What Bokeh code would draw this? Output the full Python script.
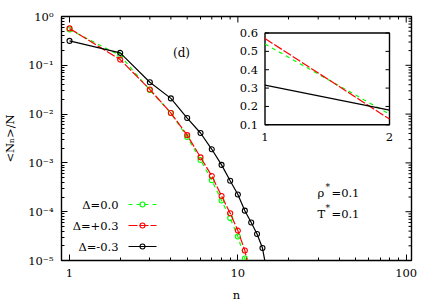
from bokeh.plotting import figure
from bokeh.models import (Range1d, LinearScale, FixedTicker,
                          CustomJSTickFormatter, ColumnDataSource)
from bokeh.core.properties import value
from bokeh.embed import file_html
from bokeh.resources import INLINE

# ---------------- data ----------------
n_green = [1, 2, 3, 4, 5, 6, 7, 8, 9, 10, 11, 12]
v_green = [0.54, 0.158, 0.031, 0.0105, 0.0034, 0.00115, 4.4e-4, 1.7e-4, 7.4e-5, 3.1e-5, 1.1e-5, 3.0e-6]

n_red = [1, 2, 3, 4, 5, 6, 7, 8, 9, 10, 11, 12]
v_red = [0.57, 0.131, 0.032, 0.0105, 0.0037, 0.0013, 5.4e-4, 2.1e-4, 9.3e-5, 4.1e-5, 1.6e-5, 4.0e-6]

n_black = [1, 2, 3, 4, 5, 6, 7, 8, 9, 10, 11, 12, 13, 14, 15]
v_black = [0.316, 0.18, 0.045, 0.021, 0.0083, 0.0041, 0.0019, 9.1e-4, 4.3e-4, 2.25e-4,
           1.05e-4, 6.0e-5, 3.5e-5, 1.8e-5, 5.0e-6]

labels = ["Δ=0.0", "Δ=+0.3", "Δ=-0.3"]
colors = ["#00ff00", "#ff0000", "#000000"]
dashes = ["4 4", "9 2", "solid"]

x_major = [1, 10, 100]
x_minor = [2, 3, 4, 5, 6, 7, 8, 9, 20, 30, 40, 50, 60, 70, 80, 90]
y_major = [1e-5, 1e-4, 1e-3, 1e-2, 1e-1, 1]
y_minor = [m * 10.0 ** e for e in range(-5, 0) for m in range(2, 10)]

inset_yticks = [0.1, 0.2, 0.3, 0.4, 0.5, 0.6]
inset_ylabels = ["0.1", "0.2", "0.3", "0.4", "0.5", "0.6"]
inset_xticks = [1, 2]
inset_xlabels = ["1", "2"]

FONT = "DejaVu Serif"
FS = "11.5px"
MS = 5

# ---------------- figure ----------------
FW, FH = 350, 244
p = figure(x_axis_type="log", y_axis_type="log",
           x_range=Range1d(0.896, 107.5), y_range=Range1d(1e-5, 1),
           frame_width=FW, frame_height=FH,
           min_border_left=60, min_border_right=26, min_border_top=16, min_border_bottom=45,
           output_backend="svg", toolbar_location=None,
           background_fill_color="white", border_fill_color="white")
p.xgrid.visible = False
p.ygrid.visible = False
p.outline_line_color = "black"
p.outline_line_width = 1.4

# inset geometry (pixel box inside frame) and limits
ix0, ix1, iy0, iy1 = 203.5, 328.0, 16.5, 108.3   # left, right, top, bottom in frame px
ixlim = (1.0, 2.0)
iylim = (0.1, 0.6)
sx = (ix1 - ix0) / (ixlim[1] - ixlim[0])
sy = (iy1 - iy0) / (iylim[1] - iylim[0])

p.extra_x_ranges = {"px": Range1d(0, FW),
                    "ix": Range1d(ixlim[0] - ix0 / sx, ixlim[1] + (FW - ix1) / sx)}
p.extra_y_ranges = {"px": Range1d(FH, 0),
                    "iy": Range1d(iylim[0] - (FH - iy1) / sy, iylim[1] + iy0 / sy)}
p.extra_x_scales = {"px": LinearScale(), "ix": LinearScale()}
p.extra_y_scales = {"px": LinearScale(), "iy": LinearScale()}

xt = FixedTicker(ticks=x_major, minor_ticks=x_minor)
yt = FixedTicker(ticks=y_major, minor_ticks=y_minor)
yfmt = CustomJSTickFormatter(code="""
const sup = {'-':'\u207b','0':'\u2070','1':'\u00b9','2':'\u00b2','3':'\u00b3','4':'\u2074',
             '5':'\u2075','6':'\u2076','7':'\u2077','8':'\u2078','9':'\u2079'};
const e = Math.round(Math.log10(tick));
return '10' + String(e).split('').map(c => sup[c]).join('');
""")
xfmt = CustomJSTickFormatter(code="return Math.round(tick).toString();")

def style_axis(ax):
    ax.major_tick_in = 6
    ax.major_tick_out = 0
    ax.minor_tick_in = 3
    ax.minor_tick_out = 0
    ax.axis_line_color = "black"
    ax.major_tick_line_color = "black"
    ax.minor_tick_line_color = "black"
    ax.major_label_text_font = FONT
    ax.major_label_text_font_size = FS
    ax.major_label_text_color = "black"
    ax.axis_label_text_font = FONT
    ax.axis_label_text_font_size = FS
    ax.axis_label_text_font_style = "normal"
    ax.axis_label_text_color = "black"

xa = p.xaxis[0]
xa.ticker = xt
xa.formatter = xfmt
xa.axis_label = "n"
style_axis(xa)
xa.major_label_standoff = 8
xa.axis_label_standoff = 8

ya = p.yaxis[0]
ya.ticker = yt
ya.formatter = yfmt
ya.axis_label = "<Nₙ>/N"
style_axis(ya)
ya.major_label_standoff = 8
ya.axis_label_standoff = 8

# mirrored ticks on top and right (x/y in data, other coordinate in frame px)
p.segment(x0=x_major, x1=x_major, y0=[0] * 3, y1=[6] * 3, y_range_name="px",
          line_color="black", line_width=1)
p.segment(x0=x_minor, x1=x_minor, y0=[0] * len(x_minor), y1=[3] * len(x_minor),
          y_range_name="px", line_color="black", line_width=1)
p.segment(y0=y_major, y1=y_major, x0=[FW] * 6, x1=[FW - 6] * 6, x_range_name="px",
          line_color="black", line_width=1)
p.segment(y0=y_minor, y1=y_minor, x0=[FW] * len(y_minor), x1=[FW - 3] * len(y_minor),
          x_range_name="px", line_color="black", line_width=1)

# ---------------- main curves ----------------
series = [(n_green, v_green), (n_red, v_red), (n_black, v_black)]
for (nn, vv), c, d in zip(series, colors, dashes):
    src = ColumnDataSource(dict(n=nn, v=vv))
    p.line("n", "v", source=src, line_color=c, line_width=1.2, line_dash=d)
    p.scatter("n", "v", source=src, marker="circle", size=MS, fill_color=None,
              line_color=c, line_width=1.1)

# ---------------- legend (manual, gnuplot style) ----------------
leg_y = [188, 209, 230]
for lab, c, d, yy in zip(labels, colors, dashes, leg_y):
    p.text(x=[57], y=[yy], text=[lab], x_range_name="px", y_range_name="px",
           text_align="right", text_baseline="middle", text_font=value(FONT),
           text_font_size=FS, text_color="black")
    p.line(x=[67, 95], y=[yy, yy], x_range_name="px", y_range_name="px",
           line_color=c, line_width=1.2, line_dash=d)
    p.scatter(x=[81], y=[yy], x_range_name="px", y_range_name="px", marker="circle",
              size=MS, fill_color=None, line_color=c, line_width=1.1)

# ---------------- annotations ----------------
p.text(x=[120], y=[36], text=["(d)"], x_range_name="px", y_range_name="px",
       text_align="center", text_baseline="middle", text_font=value(FONT),
       text_font_size="12px", text_color="black")
for sym, yy in (("ρ", 176), ("T", 197)):
    p.text(x=[256], y=[yy], text=[sym], x_range_name="px", y_range_name="px",
           text_align="left", text_baseline="middle", text_font=value(FONT),
           text_font_size=FS, text_color="black")
    p.text(x=[264], y=[yy - 6], text=["*"], x_range_name="px", y_range_name="px",
           text_align="left", text_baseline="middle", text_font=value(FONT),
           text_font_size="9px", text_color="black")
    p.text(x=[270], y=[yy], text=["=0.1"], x_range_name="px", y_range_name="px",
           text_align="left", text_baseline="middle", text_font=value(FONT),
           text_font_size=FS, text_color="black")

# ---------------- inset ----------------
p.quad(left=[ixlim[0]], right=[ixlim[1]], bottom=[iylim[0]], top=[iylim[1]],
       x_range_name="ix", y_range_name="iy", fill_color="white",
       line_color="black", line_width=1.4)
for (nn, vv), c, d in zip(series, colors, dashes):
    p.line(x=nn[:2], y=vv[:2], x_range_name="ix", y_range_name="iy",
           line_color=c, line_width=1.2, line_dash=d)
tl = 4.0
p.segment(x0=[ixlim[0]] * len(inset_yticks), x1=[ixlim[0] + tl / sx] * len(inset_yticks),
          y0=inset_yticks, y1=inset_yticks, x_range_name="ix", y_range_name="iy",
          line_color="black", line_width=1)
p.segment(x0=[ixlim[1]] * len(inset_yticks), x1=[ixlim[1] - tl / sx] * len(inset_yticks),
          y0=inset_yticks, y1=inset_yticks, x_range_name="ix", y_range_name="iy",
          line_color="black", line_width=1)
p.text(x=[ixlim[0] - 7 / sx] * len(inset_yticks), y=inset_yticks, text=inset_ylabels,
       x_range_name="ix", y_range_name="iy", text_align="right", text_baseline="middle",
       text_font=value(FONT), text_font_size=FS, text_color="black")
p.text(x=inset_xticks, y=[iylim[0] - 8 / sy] * 2, text=inset_xlabels,
       x_range_name="ix", y_range_name="iy", text_align="center", text_baseline="top",
       text_font=value(FONT), text_font_size=FS, text_color="black")

open("out.html", "w").write(file_html(p, INLINE))
